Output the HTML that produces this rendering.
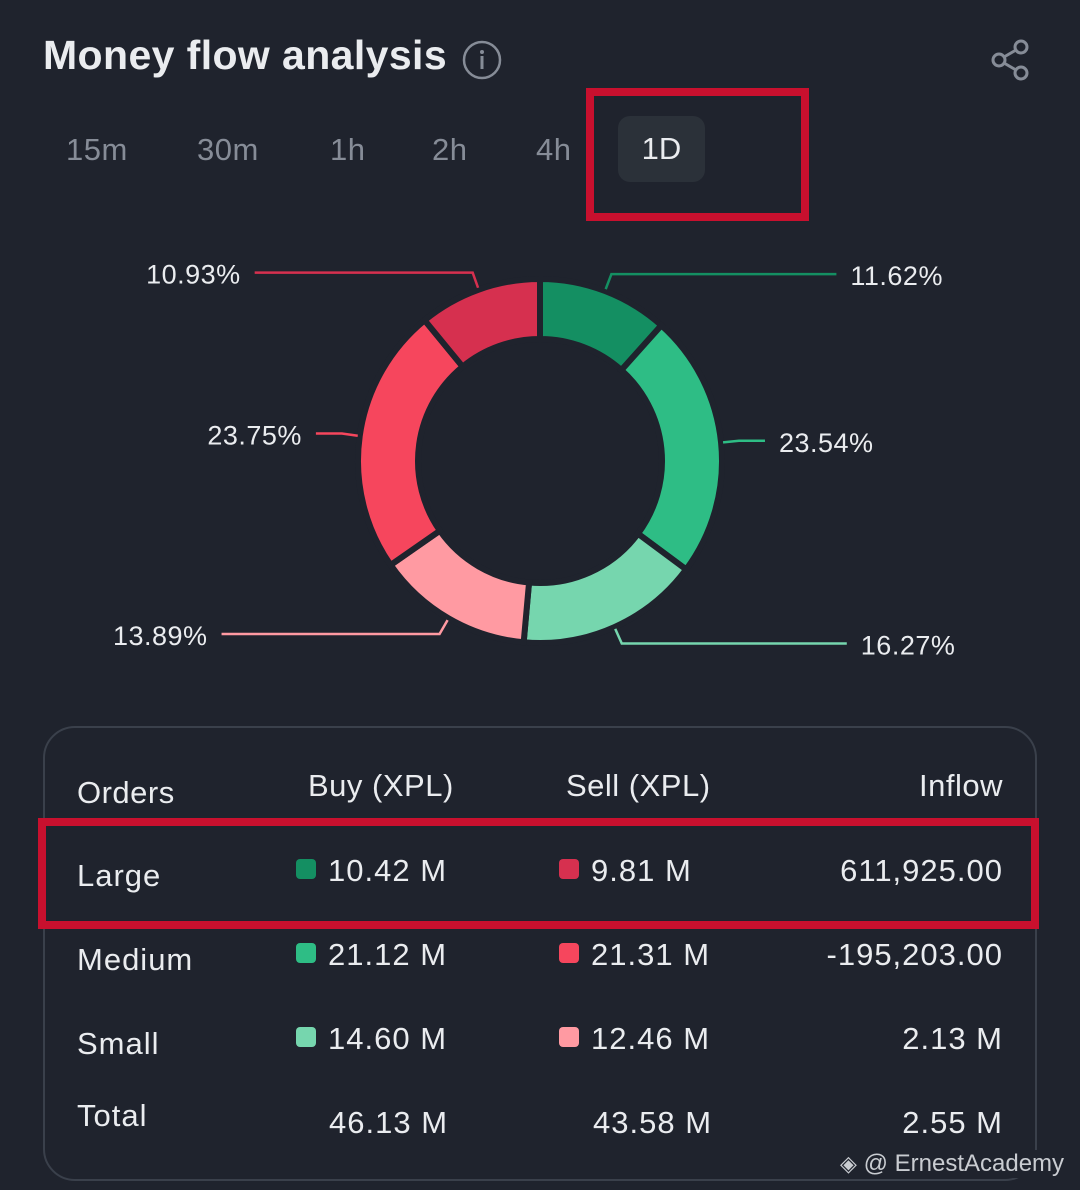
<!DOCTYPE html>
<html><head><meta charset="utf-8"><style>
*{margin:0;padding:0;box-sizing:border-box}
body{width:1080px;height:1190px;background:#1f232d;font-family:"Liberation Sans",sans-serif;position:relative;overflow:hidden;color:#eaecef}
.abs{position:absolute;white-space:nowrap}
.tab{position:absolute;top:130px;font-size:31px;color:#868c97;line-height:40px;letter-spacing:0.5px}
.th{position:absolute;font-size:31px;color:#eaecef;letter-spacing:0.5px}
.td{position:absolute;font-size:31px;color:#eaecef;letter-spacing:1px}
.sq{display:inline-block;width:20px;height:20px;border-radius:4px;margin-right:12px;vertical-align:2px}
</style></head><body>
<div class="abs" style="left:43px;top:32px;font-size:41px;font-weight:bold;color:#eaecef;letter-spacing:0.4px">Money flow analysis</div>
<svg class="abs" style="left:462px;top:40px" width="40" height="40"><circle cx="20" cy="20" r="18" fill="none" stroke="#868c97" stroke-width="2.5"/><circle cx="20" cy="12" r="2" fill="#868c97"/><rect x="18.5" y="16" width="3" height="13" fill="#868c97"/></svg>
<svg class="abs" style="left:988px;top:38px" width="44" height="44"><g fill="none" stroke="#868c97" stroke-width="3"><circle cx="33" cy="9" r="6"/><circle cx="11" cy="22" r="6"/><circle cx="33" cy="35" r="6"/><line x1="16" y1="19" x2="28" y2="12"/><line x1="16" y1="25" x2="28" y2="32"/></g></svg>
<div class="tab" style="left:66px">15m</div>
<div class="tab" style="left:197px">30m</div>
<div class="tab" style="left:330px">1h</div>
<div class="tab" style="left:432px">2h</div>
<div class="tab" style="left:536px">4h</div>
<div class="abs" style="left:618px;top:116px;width:87px;height:66px;background:#2b3139;border-radius:12px;font-size:31px;line-height:66px;text-align:center;color:#eaecef">1D</div>
<div class="abs" style="left:586px;top:88px;width:223px;height:133px;border:8px solid #c8102e"></div>

<svg id="donut" class="abs" style="left:0;top:240px" width="1080" height="460"></svg>

<div class="abs" style="left:43px;top:726px;width:994px;height:455px;border:2px solid #3a404b;border-radius:32px"></div>
<div class="th" style="left:77px;top:775px">Orders</div>
<div class="th" style="left:308px;top:768px">Buy (XPL)</div>
<div class="th" style="left:566px;top:768px">Sell (XPL)</div>
<div class="th" style="right:77px;top:768px">Inflow</div>

<div class="td" style="left:77px;top:858px">Large</div>
<div class="td" style="left:296px;top:853px"><span class="sq" style="background:#148f62"></span>10.42 M</div>
<div class="td" style="left:559px;top:853px"><span class="sq" style="background:#d6304f"></span>9.81 M</div>
<div class="td" style="right:77px;top:853px">611,925.00</div>
<div class="abs" style="left:38px;top:818px;width:1001px;height:111px;border:8px solid #c8102e"></div>

<div class="td" style="left:77px;top:942px">Medium</div>
<div class="td" style="left:296px;top:937px"><span class="sq" style="background:#2ebd85"></span>21.12 M</div>
<div class="td" style="left:559px;top:937px"><span class="sq" style="background:#f6465d"></span>21.31 M</div>
<div class="td" style="right:77px;top:937px">-195,203.00</div>

<div class="td" style="left:77px;top:1026px">Small</div>
<div class="td" style="left:296px;top:1021px"><span class="sq" style="background:#76d6ae"></span>14.60 M</div>
<div class="td" style="left:559px;top:1021px"><span class="sq" style="background:#ff9aa2"></span>12.46 M</div>
<div class="td" style="right:77px;top:1021px">2.13 M</div>

<div class="td" style="left:77px;top:1098px">Total</div>
<div class="td" style="left:329px;top:1105px">46.13 M</div>
<div class="td" style="left:593px;top:1105px">43.58 M</div>
<div class="td" style="right:77px;top:1105px">2.55 M</div>

<div class="abs" style="left:838px;top:1150px;font-size:24px;color:#c9ccd1;background:#1f232d;padding:0 6px 0 2px"><span style="font-size:22px">◈</span> @ ErnestAcademy</div>

<script>
const sliceNames=["large-buy","medium-buy","small-buy","small-sell","medium-sell","large-sell"];
const sliceValues=[11.62,23.54,16.27,13.89,23.75,10.93];
const sliceLabels=["11.62%","23.54%","16.27%","13.89%","23.75%","10.93%"];
const colors=["#148f62","#2ebd85","#76d6ae","#ff9aa2","#f6465d","#d6304f"];
const svg=document.getElementById('donut');
const NS="http://www.w3.org/2000/svg";
const cx=540,cy=221,R=182,r=122;
const total=sliceValues.reduce((a,b)=>a+b,0);
function pt(a,rad){return [cx+rad*Math.sin(a),cy-rad*Math.cos(a)];}
let acc=0;
sliceValues.forEach((v,i)=>{
  const a0=acc/total*2*Math.PI,a1=(acc+v)/total*2*Math.PI;acc+=v;
  const large=(a1-a0)>Math.PI?1:0;
  const p0=pt(a0,R),p1=pt(a1,R),q1=pt(a1,r),q0=pt(a0,r);
  const p=document.createElementNS(NS,'path');
  p.setAttribute('d',`M${p0[0]},${p0[1]} A${R},${R} 0 ${large} 1 ${p1[0]},${p1[1]} L${q1[0]},${q1[1]} A${r},${r} 0 ${large} 0 ${q0[0]},${q0[1]} Z`);
  p.setAttribute('fill',colors[i]);p.setAttribute('stroke','#1f232d');p.setAttribute('stroke-width','6');
  
  
  svg.appendChild(p);
  const am=(a0+a1)/2;
  const s=pt(am,R+2),e=pt(am,R+18);
  const right=Math.sin(am)>=0;
  const len=Math.abs(Math.sin(am))>0.9?26:(right?225:218);
  const hx=e[0]+(right?len:-len);
  const l=document.createElementNS(NS,'polyline');
  l.setAttribute('points',`${s[0]},${s[1]} ${e[0]},${e[1]} ${hx},${e[1]}`);
  l.setAttribute('fill','none');l.setAttribute('stroke',colors[i]);l.setAttribute('stroke-width','2.5');
  
  
  svg.appendChild(l);
  const t=document.createElementNS(NS,'text');
  t.setAttribute('x',right?hx+14:hx-14);t.setAttribute('y',e[1]+11);
  t.setAttribute('text-anchor',right?'start':'end');
  t.setAttribute('font-size','27');t.setAttribute('fill','#eaecef');
  t.setAttribute('letter-spacing','0.5');
  t.setAttribute('font-family','Liberation Sans, sans-serif');
  t.textContent=sliceLabels[i];
  
  
  svg.appendChild(t);
});
</script>
</body></html>
